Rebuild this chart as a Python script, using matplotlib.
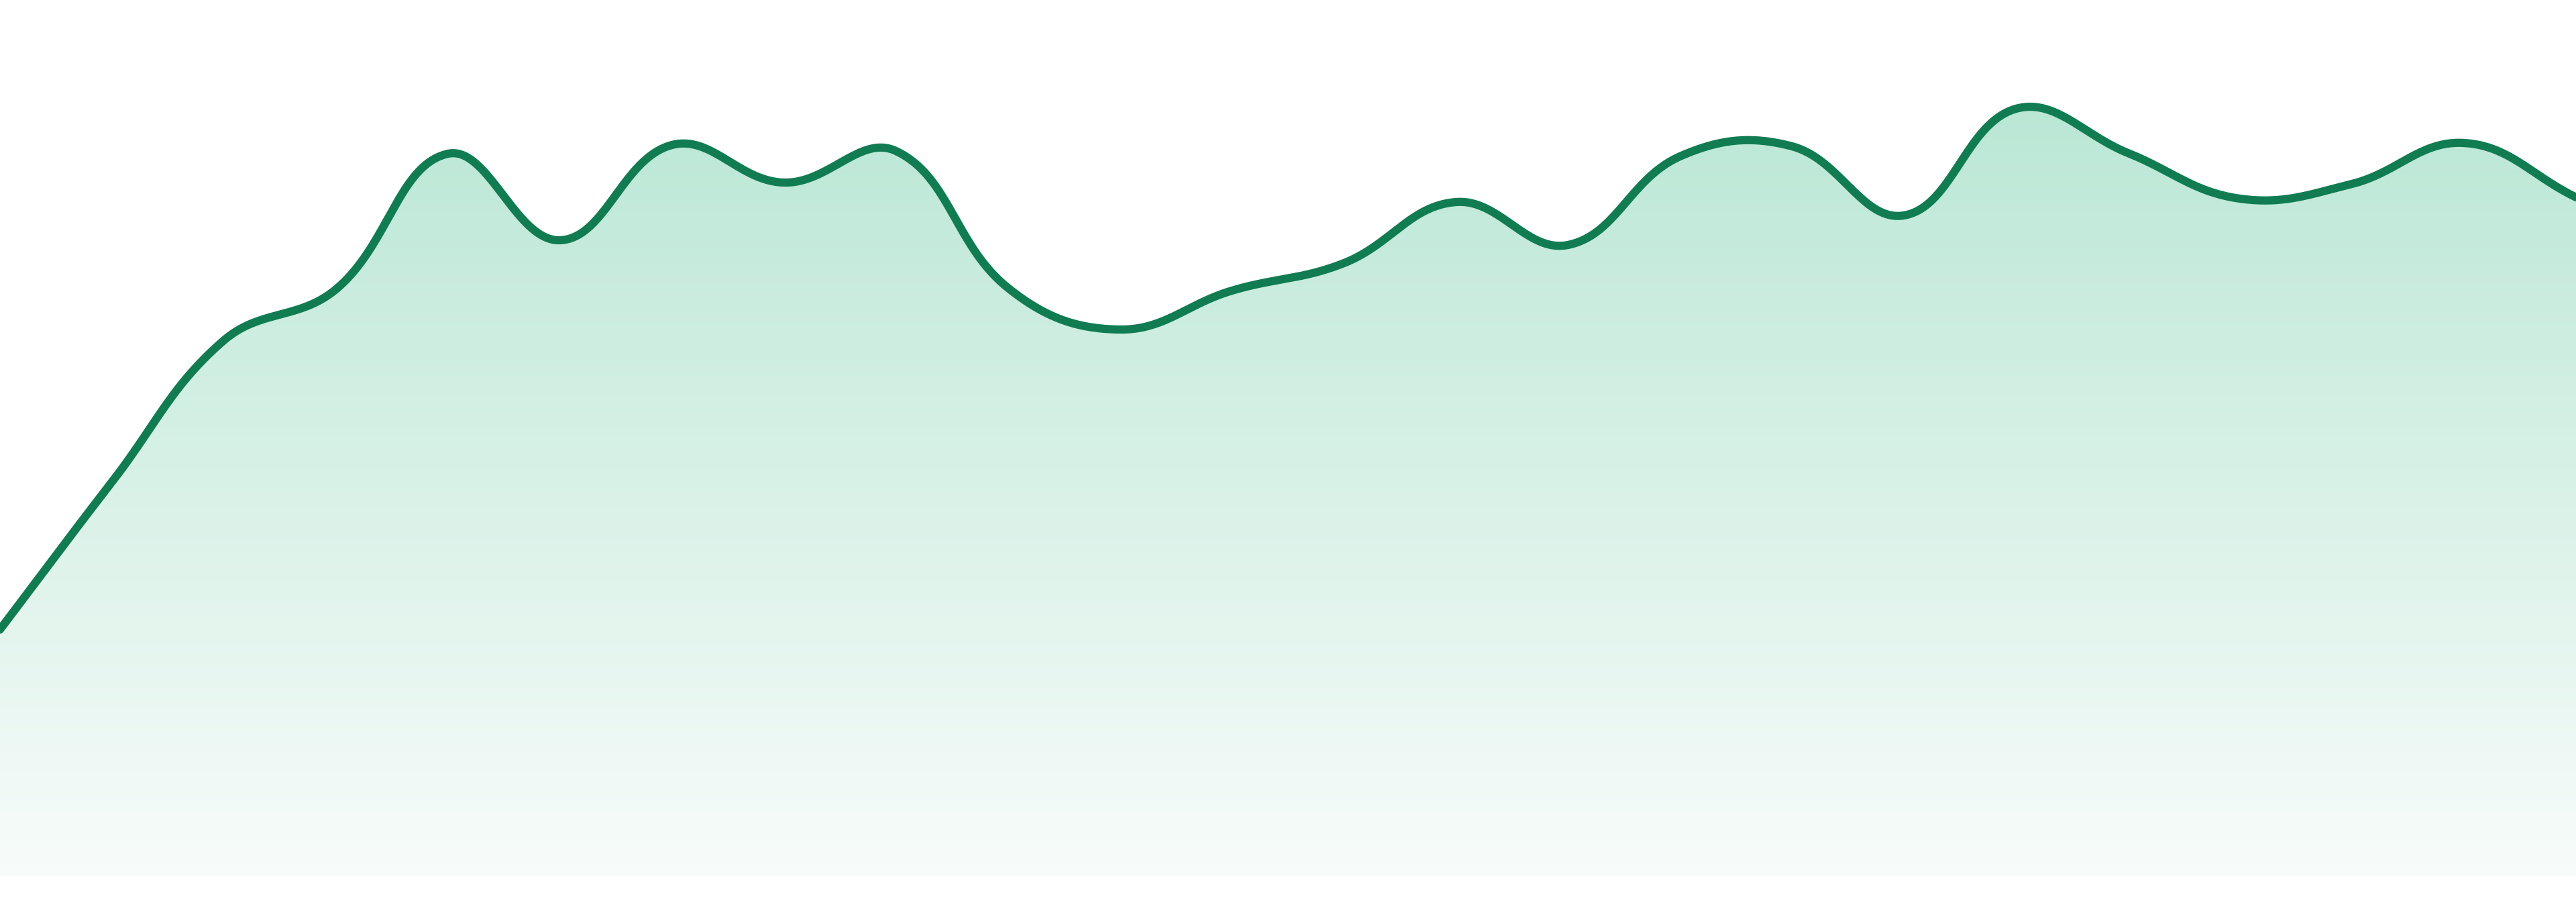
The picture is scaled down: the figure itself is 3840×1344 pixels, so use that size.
import numpy as np
import matplotlib
matplotlib.use("Agg")
import matplotlib.pyplot as plt
from matplotlib.path import Path
from matplotlib.patches import PathPatch

# data (24 evenly spaced points)
x_idx = np.arange(24)
values = [36.7, 58.7, 79.8, 87.4, 107.6, 94.7, 108.9, 103.3, 108.0, 87.6,
          81.4, 87.2, 91.3, 100.4, 94.0, 107.2, 108.7, 98.4, 114.3, 107.7,
          100.9, 103.1, 109.2, 101.1]

line_color = "#117c52"
fill_top = np.array([186, 231, 213]) / 255.0
fill_bottom = np.array([248, 252, 250]) / 255.0
tension = 0.4

W, H = 3840, 1344
y_min, y_max = -3.9, 130.5
x_min, x_max = 0, 23


def spline_curve(xs, ys, sx, sy, t=0.4, n=40):
    """Chart.js-like bezier through points; distances measured in pixels."""
    px = np.asarray(xs, float) * sx
    py = np.asarray(ys, float) * sy
    k = len(px)
    cp_prev = np.zeros((k, 2))
    cp_next = np.zeros((k, 2))
    for i in range(k):
        cur = np.array([px[i], py[i]])
        prev = np.array([px[i - 1], py[i - 1]]) if i > 0 else cur
        nxt = np.array([px[i + 1], py[i + 1]]) if i < k - 1 else cur
        d01 = np.hypot(*(cur - prev))
        d12 = np.hypot(*(nxt - cur))
        tot = d01 + d12
        fa = t * (d01 / tot if tot else 0)
        fb = t * (d12 / tot if tot else 0)
        cp_prev[i] = cur - fa * (nxt - prev)
        cp_next[i] = cur + fb * (nxt - prev)
    s = np.linspace(0, 1, n)[:, None]
    out = []
    for i in range(k - 1):
        p0 = np.array([px[i], py[i]])
        p3 = np.array([px[i + 1], py[i + 1]])
        c1, c2 = cp_next[i], cp_prev[i + 1]
        seg = (1 - s) ** 3 * p0 + 3 * (1 - s) ** 2 * s * c1 + 3 * (1 - s) * s ** 2 * c2 + s ** 3 * p3
        out.append(seg if i == 0 else seg[1:])
    pts = np.vstack(out)
    return pts[:, 0] / sx, pts[:, 1] / sy


fig = plt.figure(figsize=(W / 100, H / 100), dpi=100)
ax = fig.add_axes([0, 0, 1, 1])
ax.set_xlim(x_min, x_max)
ax.set_ylim(y_min, y_max)
ax.set_autoscale_on(False)
ax.axis("off")

sx = W / (x_max - x_min)
sy = H / (y_max - y_min)
cx, cy = spline_curve(x_idx, values, sx, sy, tension)

# vertical gradient, clipped to the area under the curve
rows = np.arange(H)
frac = np.clip((rows - 150) / (1305 - 150), 0, 1)[:, None]
grad = fill_top + frac * (fill_bottom - fill_top)
img = np.repeat(grad[:, None, :], 4, axis=1)
poly = np.vstack([np.column_stack([cx, cy]), [[x_max, 0], [x_min, 0]]])
patch = PathPatch(Path(poly), facecolor="none", edgecolor="none")
ax.add_patch(patch)
im = ax.imshow(img, extent=(x_min, x_max, y_min, y_max), aspect="auto",
               origin="upper", interpolation="bilinear", zorder=1)
im.set_clip_path(patch)

ax.plot(cx, cy, color=line_color, lw=8.8,
        solid_capstyle="round", solid_joinstyle="round", zorder=3)

fig.savefig("out.png", dpi=100, facecolor="white")
